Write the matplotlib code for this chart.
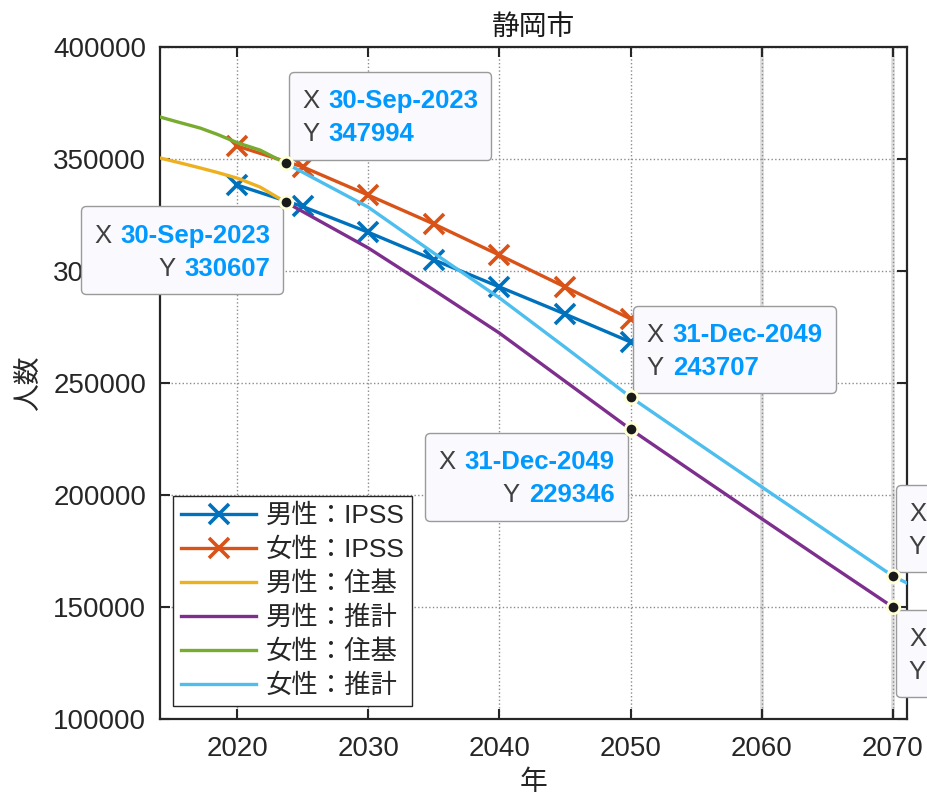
import matplotlib
matplotlib.use("Agg")
import matplotlib.pyplot as plt
from matplotlib.offsetbox import TextArea, HPacker, VPacker, AnnotationBbox, DrawingArea

plt.rcParams['font.family'] = ['Liberation Sans', 'Noto Sans CJK JP']

# ---------------- data ----------------
years_ipss = [2020, 2025, 2030, 2035, 2040, 2045, 2050]
male_ipss = [338400, 328800, 317300, 305000, 292900, 280800, 268300]
female_ipss = [355800, 346500, 333900, 321000, 307100, 292900, 278600]

years_juki = [2014.13, 2015.5, 2017.2, 2018.5, 2020.1, 2021.75, 2023.75]
male_juki = [350450, 348500, 346000, 344000, 341300, 337500, 330607]
female_juki = [368750, 366500, 363800, 361000, 357100, 354000, 347994]

years_proj = [2023.75, 2030, 2035, 2040, 2045, 2049.997, 2055, 2060, 2065, 2069.997, 2071.07]
male_proj = [330607, 310300, 291500, 272300, 250800, 229346, 209300, 189400, 169600, 149950, 145800]
female_proj = [347994, 328500, 308000, 288000, 266000, 243707, 223600, 203600, 183700, 163800, 160700]

x_ticks = [2020, 2030, 2040, 2050, 2060, 2070]
y_ticks = [100000, 150000, 200000, 250000, 300000, 350000, 400000]
ref_years = [2060, 2070]

# data tips: (x, x label, value, kind)
tips = [
    (years_proj[0], '30-Sep-2023', female_proj[0], 'f'),
    (years_proj[0], '30-Sep-2023', male_proj[0], 'm'),
    (years_proj[5], '31-Dec-2049', female_proj[5], 'f'),
    (years_proj[5], '31-Dec-2049', male_proj[5], 'm'),
    (years_proj[9], '31-Dec-2069', female_proj[9], 'f'),
    (years_proj[9], '31-Dec-2069', male_proj[9], 'm2'),
]

labels = ['男性：IPSS', '女性：IPSS', '男性：住基', '男性：推計', '女性：住基', '女性：推計']
colors = ['#0072BD', '#D95319', '#EDB120', '#7E2F8E', '#77AC30', '#4DBEEE']

# ---------------- figure ----------------
W, H = 928, 807
fig = plt.figure(figsize=(W / 100, H / 100), dpi=100)
ax = fig.add_axes([160 / W, 1 - 719 / H, (907 - 160) / W, (719 - 47) / H])

lw = 2.4
ax.plot(years_ipss, male_ipss, color=colors[0], lw=lw, marker='x', ms=15, mew=2.6, label=labels[0], zorder=4)
ax.plot(years_ipss, female_ipss, color=colors[1], lw=lw, marker='x', ms=15, mew=2.6, label=labels[1], zorder=4)
ax.plot(years_juki, male_juki, color=colors[2], lw=lw, label=labels[2], zorder=4)
ax.plot(years_proj, male_proj, color=colors[3], lw=lw, label=labels[3], zorder=4)
ax.plot(years_juki, female_juki, color=colors[4], lw=lw, label=labels[4], zorder=4)
ax.plot(years_proj, female_proj, color=colors[5], lw=lw, label=labels[5], zorder=4)

ax.set_xlim(2014.13, 2071.07)
ax.set_ylim(100000, 400000)
ax.set_xticks(x_ticks)
ax.set_yticks(y_ticks)
ax.set_xticklabels([str(t) for t in x_ticks])
ax.set_yticklabels([str(t) for t in y_ticks])

for ry in ref_years:
    ax.axvline(ry, color='#dcdcdc', lw=2.6, zorder=0.5)
ax.grid(True, ls=':', color='#8c8c8c', lw=1.0, zorder=1)
ax.set_axisbelow(True)

ax.tick_params(direction='in', length=7, width=1.5, top=True, right=True,
               labelsize=20, labelcolor='#262626', colors='#262626', pad=10)
ax.tick_params(axis='x', pad=12)
for s in ax.spines.values():
    s.set_linewidth(1.6)
    s.set_color('#262626')

ax.set_title('静岡市', fontsize=20, color='#1a1a1a', pad=9)
ax.set_xlabel('年', fontsize=20, color='#262626', labelpad=6)
ax.set_ylabel('人数', fontsize=20, color='#262626', labelpad=8)

leg = ax.legend(loc='lower left', fontsize=19, frameon=True, fancybox=False,
                edgecolor='#262626', framealpha=1, handlelength=2.85, handletextpad=0.35,
                labelspacing=0.36, borderpad=0.3, borderaxespad=0.5)
leg.get_frame().set_linewidth(1.0)
for t in leg.get_texts():
    t.set_color('#262626')

# ---------------- data tips ----------------
lab_props = dict(color='#404040', fontsize=18.5)
val_props = dict(color='#0099FF', fontsize=18.5, fontweight='bold')

for (x, xs, yv, kind) in tips:
    row1 = HPacker(children=[TextArea('X', textprops=lab_props), TextArea(xs, textprops=val_props)],
                   pad=0, sep=6.5, align='baseline')
    row2 = HPacker(children=[TextArea('Y', textprops=lab_props), TextArea(f'{int(round(yv))}', textprops=val_props)],
                   pad=0, sep=6.5, align='baseline')
    align = 'right' if kind == 'm' else 'left'
    inner = VPacker(children=[row1, row2], pad=0, sep=6.5, align=align)
    content = VPacker(children=[DrawingArea(1, 3), inner], pad=0, sep=0, align=align)
    p = 13
    if kind == 'f':
        bal, off = (0, 0), (3 + p, 4 + p)
    elif kind == 'm':
        bal, off = (1, 1), (-3 - p, -4 - p)
    else:
        bal, off = (0, 1), (3 + p, -3 - p)
    ab = AnnotationBbox(content, (x, yv), xybox=off, xycoords='data', boxcoords='offset pixels',
                        box_alignment=bal, frameon=True, fontsize=10, annotation_clip=False,
                        bboxprops=dict(boxstyle='round,pad=0.94,rounding_size=0.35',
                                       fc='#F9F9FE', ec='#9a9a9a', lw=1.0),
                        zorder=10)
    ax.add_artist(ab)
    ax.plot([x], [yv], marker='o', ms=9, mfc='#1a1a1a', mec='#FFFFD8', mew=2.0,
            zorder=11, clip_on=False, ls='none')

fig.savefig('out.png', dpi=100)
